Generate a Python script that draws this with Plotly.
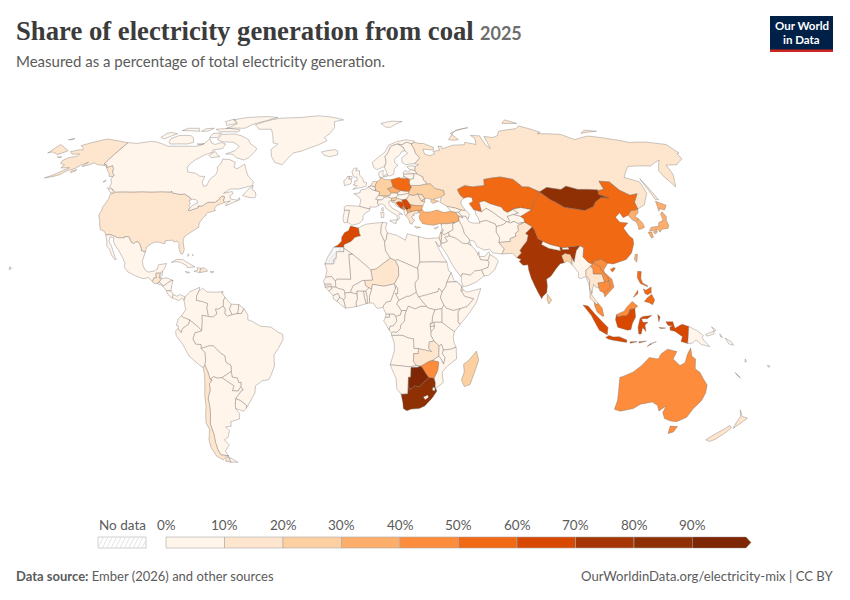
import plotly.graph_objects as go

# ---------- data (share of electricity from coal, %) ----------
iso_0_10 = ["CAN","GRL","ISL","MEX","BLZ","HND","SLV","NIC","CRI","PAN","CUB","HTI","JAM","PRI","BHS","TTO","COL","VEN","GUY","SUR","BRA","ECU","PER","BOL","PRY","ARG","URY",
    "PRT","ESP","FRA","BEL","LUX","DNK","CHE","AUT","ITA","GBR","IRL","NOR","SWE","FIN","EST","LVA","LTU","HUN","SVK","ALB","BLR",
    "CYP","UZB","TKM","KGZ","TJK","AFG","IRN","AZE","ARM","GEO","IRQ","SYR","LBN","JOR","SAU","KWT","QAT","ARE","OMN","YEM","NPL","BTN","MMR","TLS","PNG","SLB","VUT","FJI",
    "DZA","TUN","LBY","EGY","SDN","SSD","ERI","ETH","DJI","SOM","KEN","UGA","TZA","RWA","BDI","COD","COG","GAB","GNQ","CMR","CAF","TCD","NGA","BEN","TGO","GHA","BFA","MLI","MRT","SEN","GMB","GNB","GIN","SLE","LBR","CIV","AGO","MWI","MOZ","NAM","LSO","SWZ"]
iso_10_20 = ["USA","RUS","GTM","DOM","CHL","NLD","ROU","MDA","GRC","HRV","ISR","PAK","THA","NZL","NER","ZMB"]
iso_20_30 = ["DEU","UKR","SVN","BGD","LKA","MDG"]
iso_30_40 = ["CZE","BGR","MKD","TUR","TWN","JPN","KOR","PRK","NCL"]
iso_40_50 = ["LAO","VNM","KHM","MYS","AUS","ZWE","MNE"]
iso_50_60 = ["POL","KAZ","CHN","PHL"]
iso_60_70 = ["BIH","SRB","IDN","MAR"]
iso_70_80 = ["IND","XKX"]
iso_80_90 = ["MNG","ZAF"]
iso_90_100 = ["BWA"]
iso_no_data = ["ESH"]
bin_members = [iso_0_10, iso_10_20, iso_20_30, iso_30_40, iso_40_50, iso_50_60, iso_60_70, iso_70_80, iso_80_90, iso_90_100]
bin_colors = ["#fff5eb","#fee6ce","#fdd0a2","#fdae6b","#fd8d3c","#f16913","#d94801","#a63603","#8f3004","#7f2704"]
tick_labels = ["0%","10%","20%","30%","40%","50%","60%","70%","80%","90%"]

# ---------- simplified country outlines (lon,lat) ----------
OUTLINES = {
"USA":["-124.7,48.4 -123,49 -115,49 -105,49 -95.2,49 -95.2,49.4 -94.6,48.7 -92,48.3 -89.5,48 -88.4,48.3 -84.8,46.9 -84.5,46.5 -83.5,46 -84.5,45.5 -83.3,44.5 -83.6,43.6 -82.5,43 -83.1,42 -82.7,41.7 -79,42.8 -79,43.3 -79.2,43.5 -76.8,43.6 -76.3,44.2 -75,45 -71.5,45 -71.3,45.3 -70.3,45.9 -70,46.7 -69.2,47.4 -68.3,47.3 -67.8,47.1 -67.8,45.7 -67,44.9 -68.5,44.3 -70,43.8 -70.7,43 -70.8,42.3 -70,41.8 -71.3,41.5 -73.7,40.9 -74,40.5 -74.1,39.7 -75,38.9 -75.4,38 -76,37 -75.7,35.3 -76.7,34.7 -78,33.9 -79.3,33.1 -81,32 -81.4,30.7 -81,29.2 -80.5,28 -80,26.8 -80.3,25.3 -81.1,25.1 -81.8,26 -82.7,27.8 -82.8,29 -84,30.1 -85.3,29.7 -86,30.4 -88,30.3 -89.3,30.2 -89.2,29.1 -90.5,29.2 -91.7,29.6 -93.8,29.7 -95,29.2 -97.1,27.8 -97.2,25.9 -99.1,26.4 -99.5,27.5 -100.7,29.1 -101.5,29.8 -102.7,29.7 -103.2,29 -104.5,29.6 -106.4,31.7 -108.2,31.8 -108.2,31.3 -111,31.3 -114.8,32.5 -117.1,32.5 -118.4,33.8 -120.6,34.5 -121.9,36.6 -122.5,37.8 -123.8,39.3 -124.3,40.4 -124.1,42 -124.5,43 -124,46.2",
 "-141,69.6 -141,60.3 -139,60 -137.5,58.9 -135.5,59.7 -133.4,58.4 -131.8,56.6 -130,55.9 -130,55.2 -132,55.2 -133.5,56.5 -135.5,57.5 -136.5,58.2 -139.5,59.7 -144,60 -147,60.8 -148.5,60 -151.5,59.3 -150.5,61.1 -153,59.8 -154,58.5 -157,57.5 -158.5,56 -161,55.2 -164.8,54.6 -162,55.8 -159,57.8 -157.5,58.8 -162,58.7 -162,60 -165,60.6 -166,61.8 -164.5,63 -161,63.6 -161,64.6 -165,64.5 -168,65.6 -164,66.5 -162,66.2 -163.5,67.2 -166.7,68.3 -163,69.6 -156.7,71.3 -152,70.8 -146,70.2",
 "-155.9,20.2 -155,19.8 -155.6,19 -156,19.6",
 "-154.6,57.4 -152.4,58 -152.6,57.3 -154.2,56.8",
 "-171.5,63.4 -168.8,63.3 -170,63"],
"CAN":["-141,69.6 -135,69.3 -128,70.2 -125,70 -115,68 -110,68 -105,68 -98,68 -95,69 -94,71.5 -91,69.5 -88,68.8 -85,69.7 -82,69 -82,67 -87,66.3 -86,65.5 -90,64 -93,62 -94.5,60 -94.5,58.8 -92.5,57 -88,56.5 -85,55.3 -82.3,55.2 -82.2,53 -80.5,51.3 -79,51.5 -79,54 -77,56 -77.5,58 -78.5,59 -77.5,60.5 -78,62.4 -74,62.2 -70,61 -69.5,59 -67.5,58.3 -65.5,59.5 -64.5,60.3 -62,57.5 -60,55.5 -56,53 -56,51.5 -58.5,51 -62,50.2 -66.5,50.2 -69,48.5 -65,49.2 -64.3,48.3 -65.5,47.5 -64.5,46.2 -61,45.8 -60.5,46.8 -60,46 -63.5,44.6 -66,43.6 -66,44.5 -64.5,45.5 -67,45 -67.8,45.7 -67.8,47.1 -68.3,47.3 -69.2,47.4 -70,46.7 -70.3,45.9 -71.3,45.3 -71.5,45 -75,45 -76.3,44.2 -76.8,43.6 -79.2,43.5 -79,43.3 -79,42.8 -82.7,41.7 -83.1,42 -82.5,43 -81.7,44 -80,44.6 -80.5,45.6 -81.5,46 -83.5,46.2 -84.5,46.5 -84.8,46.9 -88.4,48.3 -89.5,48 -92,48.3 -94.6,48.7 -95.2,49.4 -95.2,49 -105,49 -115,49 -123,49 -125,50 -127.5,51 -128,52.5 -130,54.2 -130,55.2 -130,55.9 -131.8,56.6 -133.4,58.4 -135.5,59.7 -137.5,58.9 -139,60 -141,60.3",
 "-62,66 -64,63 -66,62 -71,63 -74,64.5 -78,64.6 -74,66 -73,68 -78,69.8 -85,70 -89,71 -89,73.5 -81,73.7 -76,72.8 -70,71 -67,69 -62,67",
 "-105,69 -115,69 -117,70 -118,71.5 -115,73 -108,73 -105,72 -102,69.8",
 "-125,72 -122,71.3 -117.5,73.8 -122,74.4 -124.5,74",
 "-90,76.5 -78,76.5 -75,78.5 -68,80.5 -62,82.5 -70,83.1 -85,82.4 -92,81 -86,79 -88,77.5",
 "-80,74.7 -92,74.7 -96,76 -88,76.5 -80,75.7",
 "-59.3,47.6 -56,46.9 -53,46.7 -52.7,47.6 -53.5,49 -55.5,50 -55.5,51.5 -57.5,50",
 "-123.3,48.4 -125,48.7 -128.3,50.7 -125,50",
 "-80.5,63.5 -85,63 -87,64 -85,65.7 -82,64",
 "-105,75 -117,75.3 -115,76.5 -108,76.5",
 "-87,79 -92,78 -96,80 -92,81.5",
 "-90,72 -95,72 -95,74 -90,74",
 "-100,75 -98,76.5 -103,76.3 -104,75",
 "-99,69 -95,69.2 -96,68.6",
 "-132,53.8 -131.8,53 -132.8,53"],
"GRL":["-73,78.2 -68,76 -60,76 -55,71 -54,69.5 -51,69 -53.5,66.5 -51.5,63.5 -48.5,61 -44,60 -42.5,62 -40,65 -35,66 -27,68.5 -22,70.5 -24,72 -21,74 -19,77 -20,80 -14,81 -25,83 -33,83.6 -45,82.5 -60,82 -65,81 -70,79.5"],
"ISL":["-24,65.5 -22,64 -18.8,63.4 -14.5,64.3 -14.6,65.8 -16.5,66.5 -21,66"],
"MEX":["-117.1,32.5 -114.8,32.5 -111,31.3 -108.2,31.3 -108.2,31.8 -106.4,31.7 -104.5,29.6 -103.2,29 -102.7,29.7 -101.5,29.8 -100.7,29.1 -99.5,27.5 -99.1,26.4 -97.2,25.9 -97.8,22.5 -97.2,20.6 -95.9,18.9 -94.5,18.2 -92,18.6 -90.7,19.3 -90.4,21 -87,21.5 -87.5,19.5 -88.3,18.5 -89.1,17.8 -91,17.8 -91,17.2 -90.5,16.1 -91.7,16 -92.2,14.6 -94,16.1 -96.5,15.7 -99.7,16.7 -103.5,18.3 -105.5,20.2 -105.3,21.5 -106.9,23.8 -109.4,26.7 -111,28 -112.7,30 -113,31.3 -114.8,31.7 -114.7,30 -113,28.2 -111.5,26 -110.3,24 -109.5,23.1 -110.2,23 -112.2,25 -113.5,27 -115,28 -115.7,30"],
"GTM":["-92.2,14.6 -91.7,16 -90.5,16.1 -91,17.2 -91,17.8 -89.1,17.8 -89.2,15.9 -88.2,15.7 -89.2,14.4 -90,13.8 -91.5,13.9"],
"BLZ":["-89.1,17.8 -88.3,18.5 -88.2,17 -88.9,15.9 -89.2,15.9"],
"HND":["-88.2,15.7 -86,16 -83.2,15 -84.5,14.7 -85.5,14 -87,13 -87.6,13.2 -89.2,14.4"],
"SLV":["-89.2,14.4 -87.6,13.2 -88,13.1 -90,13.8"],
"NIC":["-83.2,15 -83.6,13 -83.7,11 -85.7,11.1 -87.6,12.9 -87,13 -85.5,14 -84.5,14.7"],
"CRI":["-83.7,11 -82.6,9.6 -83,8.3 -83.6,8.5 -85,9.8 -85.7,10.8 -85.7,11.1"],
"PAN":["-82.6,9.6 -81,9 -79.5,9.6 -77.4,8.7 -77.8,7.3 -78.5,8.3 -80,7.3 -81.5,7.8 -83,8.3"],
"CUB":["-84.9,21.9 -83,23 -80,23 -76,21 -74.2,20.2 -77.5,19.9 -78,20.7 -81,22 -83,22.2"],
"HTI":["-71.7,19.7 -73.3,19.9 -72.8,19 -74.4,18.5 -71.8,18"],
"DOM":["-71.7,19.7 -70,19.8 -68.4,18.6 -70,18.3 -71.8,18"],
"JAM":["-78.3,18.4 -76.3,18.1 -77,17.8"],
"PRI":["-67.2,18.5 -65.6,18.3 -66.9,17.9"],
"BHS":["-78,25.2 -77.5,24.8 -77.9,24.2","-76,25 -75.5,24.5 -75.9,24.6"],
"TTO":["-61.6,10.8 -61,10.7 -61.2,10.1 -61.9,10.1"],
"COL":["-77.4,8.7 -75.5,10.7 -74,11.3 -71.3,12.4 -71.5,11 -72.5,9 -72.4,7.4 -70,7 -67.5,6.2 -67.8,4.5 -67,1.2 -69.8,1.7 -69.7,-0.5 -70,-4.2 -72,-2.4 -75.2,-0.1 -77.8,0.8 -78.8,1.4 -77,3.8 -77.5,6 -77.8,7.3"],
"VEN":["-71.5,11 -70,12 -68,10.6 -64,10.5 -61.9,10.7 -60,8.5 -60.7,7.5 -60.7,5.2 -62.8,4 -64,4.1 -63.4,2.2 -65,1 -67,1.2 -67.8,4.5 -67.5,6.2 -70,7 -72.4,7.4 -72.5,9"],
"GUY":["-60,8.5 -57.2,5.9 -58,4 -56.8,1.9 -58.8,1.3 -60,2.2 -59.9,4 -60.7,5.2 -60.7,7.5"],
"SUR":["-57.2,5.9 -54,5.8 -54.2,3.2 -54.6,2.3 -56.8,1.9 -58,4"],
"FRA":["-1.8,43.4 -1.2,46 -2.5,47.3 -4.7,48.3 -1.6,48.7 -1.5,49.7 1.5,50.2 2.5,51.1 4.2,50 5.9,49.5 6.2,49.5 8.2,49 7.6,47.6 6,46.2 7,45.9 7,44.2 7.5,43.8 6,43.1 3.2,43.2 3.2,42.4 0.7,42.8",
 "-54,5.8 -51.7,4.2 -52.7,2.4 -54.6,2.3 -54.2,3.2",
 "8.6,42.4 9.4,43 9.5,41.6 9,41.4"],
"BRA":["-51.7,4.2 -50,1.8 -50,0 -48,-0.7 -44.5,-2.5 -40,-2.8 -37,-4.8 -35,-5.5 -34.8,-7.5 -37,-11 -39,-13.5 -39,-17.7 -40.9,-21.5 -42,-23 -44.7,-23.3 -48,-25.3 -48.6,-28 -52,-32.2 -53.4,-33.8 -53.2,-32.7 -55.7,-30.9 -57.6,-30.2 -54.6,-27.2 -53.7,-26.9 -54.6,-25.6 -54.3,-24 -55.4,-24 -55.8,-22.3 -58,-22 -58.2,-19.8 -58.1,-17.5 -60.2,-16.3 -60.5,-13.8 -62,-13 -65.3,-10 -67,-10 -70.6,-11 -70.6,-9.5 -72.9,-9.4 -74,-7.3 -73,-5 -70,-4.2 -69.7,-0.5 -69.8,1.7 -67,1.2 -65,1 -63.4,2.2 -64,4.1 -62.8,4 -60.7,5.2 -59.9,4 -60,2.2 -58.8,1.3 -56.8,1.9 -54.6,2.3 -52.7,2.4"],
"ECU":["-78.8,1.4 -77.8,0.8 -75.2,-0.1 -75.5,-1.6 -78.3,-3.4 -79,-5 -80.3,-3.4 -80,-2.5 -81,-2.2 -80,0.5"],
"PER":["-80.3,-3.4 -79,-5 -78.3,-3.4 -75.5,-1.6 -75.2,-0.1 -72,-2.4 -70,-4.2 -73,-5 -74,-7.3 -72.9,-9.4 -70.6,-9.5 -70.6,-11 -69,-12.5 -69,-15.5 -69.5,-17.5 -70.4,-18.3 -72,-17.3 -76,-14 -78.5,-9.5 -81.2,-6 -81.3,-4.3"],
"BOL":["-70.6,-11 -67,-10 -65.3,-10 -62,-13 -60.5,-13.8 -60.2,-16.3 -58.1,-17.5 -58.2,-19.8 -62.6,-22.2 -64.5,-22.4 -66.2,-21.8 -67.9,-22.8 -68.5,-20 -69.5,-17.5 -69,-15.5 -69,-12.5"],
"PRY":["-58.2,-19.8 -58,-22 -55.8,-22.3 -55.4,-24 -54.3,-24 -54.6,-25.6 -56,-27.3 -58.6,-27.2 -57.6,-25.3 -62.6,-22.2"],
"ARG":["-67.9,-22.8 -66.2,-21.8 -64.5,-22.4 -62.6,-22.2 -57.6,-25.3 -58.6,-27.2 -56,-27.3 -54.6,-25.6 -53.7,-26.9 -54.6,-27.2 -57.6,-30.2 -58.2,-32.5 -58.4,-34 -57,-36 -57.6,-38 -62,-39 -62.3,-40.8 -65,-41 -63.7,-42.5 -65.3,-45 -67.5,-46 -66,-48 -69,-50.5 -68.4,-52.3 -72,-52 -72.5,-50 -72.3,-47 -71.7,-44 -71.8,-40 -70.5,-36 -70,-33 -70,-30 -68.5,-27 -68.4,-24.5 -67,-23",
 "-68.6,-52.7 -65,-54.9 -68.6,-54.9"],
"CHL":["-70.4,-18.3 -69.5,-17.5 -68.5,-20 -67.9,-22.8 -67,-23 -68.4,-24.5 -68.5,-27 -70,-30 -70,-33 -70.5,-36 -71.8,-40 -71.7,-44 -72.3,-47 -72.5,-50 -72,-52 -68.4,-52.3 -70.5,-53 -72,-54 -74.5,-52.5 -75.5,-49 -75,-46 -73,-42 -73.7,-39.5 -73,-37 -71.7,-33 -71.3,-29 -70.5,-25 -70.1,-21",
 "-68.6,-52.7 -68.6,-54.9 -71,-54.5 -70.5,-53.5"],
"URY":["-57.6,-30.2 -55.7,-30.9 -53.2,-32.7 -53.4,-33.8 -54.9,-35 -58.4,-34 -58.2,-32.5"],
"PRT":["-8.9,41.9 -6.5,41.9 -6.9,40.2 -7,39.5 -7.4,37.2 -8.9,37 -9.5,38.7"],
"ESP":["-8.9,41.9 -9.2,43 -8,43.7 -1.8,43.4 0.7,42.8 3.2,42.4 3,41.8 0.5,40.5 -0.3,39.4 0,38.7 -0.7,37.7 -2,36.8 -5.3,36.1 -6.3,36.8 -7.4,37.2 -7,39.5 -6.9,40.2 -6.5,41.9"],
"BEL":["2.5,51.1 4.3,51.4 5.9,51 6.1,50.2 5.9,49.5 4.2,50"],
"LUX":["5.9,49.5 6.1,50.2 6.4,49.5 6.2,49.5"],
"NLD":["3.6,51.4 4.3,51.4 5.9,51 6.2,51.9 7.2,53.2 5,53.2 4,52"],
"DEU":["6.2,51.9 7.2,53.2 8.7,54 8.6,54.9 10,54.5 11,54 14.2,53.9 14.6,52.5 15,51 12.2,50.3 13.8,48.7 13,47.5 10,47.4 7.6,47.6 8.2,49 6.4,49.5 6.1,50.2 5.9,51"],
"DNK":["8.6,54.9 8.1,55.6 8.2,57 10.6,57.7 10.3,56.5 10.5,55 9.7,54.8","11,55.7 12.5,56 12.4,55.2 11,55"],
"CHE":["6,46.2 7.6,47.6 10,47.4 10.4,46.9 9,45.9 7,45.9"],
"AUT":["10,47.4 13,47.5 13.8,48.7 16.9,48.6 17.1,47.8 16.1,46.8 13.7,46.5 12.2,47 10.4,46.9"],
"ITA":["7,44.2 7,45.9 9,45.9 10.4,46.9 12.2,47 13.7,46.5 13.6,45.7 12.3,45.3 12.4,44.2 14,42.5 16,41.8 18.5,40.2 17,40.5 16.5,39.7 17.1,39 16,38 15.7,40 13,41.3 11,42.5 10.2,43.8 8.8,44.4 7.5,43.8",
 "12.4,38 15.6,38.2 15.1,36.7 12.5,37.6","8.2,41 9.7,41 9.6,39.1 8.5,39"],
"GBR":["-5.3,50 1.4,51.2 1.7,52.7 0.2,53 -0.2,54.3 -1.6,55.5 -2,56 -2,57.5 -4,57.6 -3.2,58.6 -5,58.6 -6,57 -5.2,55.3 -4.8,55 -3.2,54.9 -3.2,53.4 -4.5,53.3 -4.2,52.2 -5.2,51.8 -3,51.4",
 "-7.3,55.2 -6,55.2 -5.6,54.5 -6.3,54.1 -7.5,54.2"],
"IRL":["-7.3,55.2 -7.5,54.2 -6.3,54.1 -6,53.2 -6.4,52.2 -9.5,51.5 -10,53.5 -8.5,54.5 -8.3,55.2"],
"NOR":["5,61 5.5,59 7,58 8.5,58.3 10.8,59.2 11.3,59 12.5,61 12.2,63.5 14,65 16,67.8 18,68.5 20.5,69 23,68.7 26,69.8 29,69 31,70.3 26,71 20,70 15,68.5 12.5,65.5 9,63.5","12,79 20,80.3 27,80 18,77 15,77"],
"SWE":["11.3,59 12.5,56.4 12.9,55.4 14.3,55.5 16,56.2 16.6,58.5 18.8,59.8 17.2,60.8 17.4,62.5 21,64.5 22.2,65.8 24,65.9 23.5,67.5 20.5,69 18,68.5 16,67.8 14,65 12.2,63.5 12.5,61"],
"FIN":["24,65.9 25.3,65 21.5,63 21.2,61 23,60 25.5,60.3 28,60.5 31.5,62.9 29.8,64.7 29.5,67 28.5,69 29,69 26,69.8 23,68.7 20.5,69 23.5,67.5"],
"EST":["23.5,59.2 25.5,59.6 28,59.4 27.4,57.6 25,58 24.3,58.3"],
"LVA":["21,57 21,56.1 25.8,56.3 28.2,56.2 27.4,57.6 25,58 24.3,57.2 23.2,57 22.6,57.7"],
"LTU":["21,56.1 21,55.3 22.8,54.4 23.9,54 25.8,54.3 26.5,55.7 25.8,56.3"],
"POL":["14.2,53.9 18.5,54.8 19.8,54.4 22.8,54.4 23.9,54 23.5,52.5 24,50.8 22.7,49.1 19,49.4 18.8,49.6 16.5,50.2 15,51 14.6,52.5"],
"CZE":["12.2,50.3 15,51 16.5,50.2 18.8,49.6 16.9,48.6 13.8,48.7"],
"SVK":["16.9,48.6 18.8,49.6 19,49.4 22.7,49.1 22.2,48.4 18.8,47.9 17.1,47.8"],
"HUN":["17.1,47.8 18.8,47.9 22.2,48.4 22.8,48 21,46.2 18.8,45.9 16.5,46.5 16.1,46.8"],
"SVN":["13.7,46.5 16.1,46.8 16.5,46.5 15.3,45.5 13.6,45.5"],
"HRV":["13.6,45.5 15.3,45.5 16.5,46.5 18.8,45.9 19,45 17,45.2 15.8,44.8 17.5,43 18.5,42.4 16,43.5 14.9,45 14,44.9"],
"BIH":["15.8,44.8 17,45.2 19,45 19.5,44 18.5,42.6 17.5,43"],
"SRB":["18.8,45.9 21,46.2 22.5,44.2 22.9,43.2 22,42.3 21.7,42.6 20.6,43.2 20,42.8 19.3,43 19.5,44 19,45"],
"XKX":["20,42.6 20,42.8 20.6,43.2 21.7,42.6 20.6,41.9"],
"MNE":["18.5,42.6 19.3,43 20,42.8 20,42.6 19.4,41.9 18.5,42.4"],
"ALB":["19.4,41.9 20,42.6 20.6,41.9 21,40.7 20,39.7 19.3,40.5"],
"MKD":["20.6,41.9 21.7,42.6 22,42.3 23,41.4 21,40.8"],
"BGR":["22.9,43.2 22.5,44.2 25,43.7 28.6,43.7 27.9,42.7 28,42 26.3,41.8 24,41.5 23,41.4 22,42.3"],
"ROU":["21,46.2 22.8,48 24.9,47.7 26.7,48.3 28.2,45.5 29.7,45.2 28.6,43.7 25,43.7 22.5,44.2"],
"MDA":["26.7,48.3 29,47.9 30,46.4 28.2,45.5"],
"UKR":["22.7,49.1 24,50.8 24,51.6 28,51.6 32,52.2 34,52.3 36,50.4 40,49.6 40,48 38.2,47.1 35,46.3 33.9,46 36.5,45.4 33.5,44.5 32.5,45.4 33.5,46 31,46.5 30,46.4 29.7,45.2 28.2,45.5 30,46.4 29,47.9 26.7,48.3 24.9,47.7 22.8,48 22.2,48.4"],
"BLR":["23.5,52.5 23.9,54 25.8,54.3 26.5,55.7 25.8,56.3 28.2,56.2 31,55 30.8,53.8 32,53 32,52.2 28,51.6 24,51.6 24,50.8"],
"GRC":["20,39.7 21,40.8 23,41.4 24,41.5 26.3,41.8 26,40.9 23.5,40.3 24,40 22.8,39.7 23,38.5 24,38 23,37.3 22.5,36.5 21.5,36.9 21.2,38.3","23.6,35.6 26.3,35.3 24.5,35"],
"TUR":["26.3,41.8 28,42 29,41.2 31.5,41.2 35,42 38,41 41.5,41.5 43.5,41.1 44.8,39.7 44.5,37.8 42.4,37.1 39,36.7 36.2,36.7 36,36 36,36.9 32.5,36.1 30.5,36.3 27.5,36.7 26.3,38.3 26.2,39.6 27,40.5 26.3,40.9"],
"CYP":["32.4,35 34.5,35.6 33.9,34.9 32.8,34.6"],
"RUS":["28,59.4 30,60 28,60.5 31.5,62.9 29.8,64.7 29.5,67 28.5,69 31,69.8 33,69.3 36,69.2 41,67.5 40.5,66.3 34.5,66.7 34.8,64.5 37.5,63.9 40.5,64.6 40,65.7 44,66.2 44,68 46,68 46,66.8 53,68.5 60,68.7 61,69.8 67,68.8 68.5,71.5 67,73 72.5,72.8 72.5,68.5 74,67 75,72.5 80,72 84,73 87,75 100,76.3 104,77.7 113,74.5 110,73.8 124,73.5 129,71 140,72.7 150,71.5 160,69.7 170,69.9 178,69 179.9,68.8 179.9,65 178,64.6 177,62.5 170,60 164,59.9 163,58 162,56 157,51 156,55 156.5,57.5 163.5,62 155,59.5 142.5,59.3 135,54.8 141,53 140,48.5 135,44 131.2,42.6 130.6,42.4 131,45 135,48.3 131,47.7 127.5,49.7 125.5,53 120.5,53.3 120,50 117,49.6 116.7,49.8 107,50 102,51.3 98.7,50 98,50 92,50.8 87.8,49.2 87.3,49.1 83,51 80,51 77,54 71,55 62,54 61,51.5 55,51 51,51.5 47,50 47.5,48 49,46.5 47.5,45.6 47,44.5 47.7,43 48.6,41.8 46.5,41.9 44,42.7 40,43.4 37,45 38.2,47.1 40,48 40,49.6 36,50.4 34,52.3 32,52.2 32,53 30.8,53.8 31,55 28.2,56.2 27.4,57.6",
 "20,54.4 22.8,54.4 21,55.3",
 "142.5,54.3 143,49 143.5,46 142,46 142,51",
 "52,71 55,70.7 58,71 55,74 69,76.8 60,75.6 56,73.5",
 "95,79 105,79 100,81",
 "138,74 143,75.5 150,75",
 "-179.9,68.8 -175,67.5 -170,66 -173,64.3 -178,65.5 -179.9,65",
 "-179.9,71 -177,71.5 -178,70.8"],
"KAZ":["47,50 51,51.5 55,51 61,51.5 62,54 71,55 77,54 80,51 83,51 87.3,49.1 85.5,47.2 82.8,45.4 80,42.1 75,42.9 71,42.3 70.8,42 68,41 66.5,41.9 66,43 61,44.4 58.6,45.5 56,45 56,41.3 55.5,41.3 53,42 52.5,42 51,44.5 53,45.3 53,46.8 51,47 49,46.5 47.5,48"],
"UZB":["56,45 58.6,45.5 61,44.4 66,43 66.5,41.9 68,41 70.8,42 71,42.3 73.2,40.8 70.5,40.2 67.5,39.5 68,38 67.4,37.3 66.5,37.4 64,39 61,41.2 58.5,42.6 56,41.3"],
"TKM":["53,42 55.5,41.3 56,41.3 58.5,42.6 61,41.2 64,39 66.5,37.4 64.5,36.3 61.2,35.6 61,36.6 57,38 53.9,37.3 53.7,39 53,40"],
"KGZ":["71,42.3 75,42.9 80,42.1 76,40.4 73.7,39.5 70.5,40.2 73.2,40.8"],
"TJK":["67.5,39.5 70.5,40.2 73.7,39.5 75,38.6 74.9,37.3 71.5,36.8 70,37.6 68,37 67.4,37.3 68,38"],
"AFG":["61.2,35.6 64.5,36.3 66.5,37.4 67.4,37.3 68,37 70,37.6 71.5,36.8 74.9,37.3 71.3,36 71,34 69.3,33 69.3,31.9 66.5,31 66.3,29.9 61,29.5 61.8,31.3 60.6,33.5"],
"PAK":["61,29.5 66.3,29.9 66.5,31 69.3,31.9 69.3,33 71,34 71.3,36 74.9,37.3 77.8,35.5 74,33 75,32.3 73.8,30 71.5,28 70,26.5 70.5,25.5 68.2,23.7 66.5,25.4 61.6,25.1 63,27"],
"IRN":["44.8,39.7 48,39.6 49,37.5 50.5,37 54,36.9 53.9,37.3 57,38 61,36.6 61.2,35.6 60.6,33.5 61.8,31.3 61,29.5 63,27 61.6,25.1 57.5,25.6 56.5,27 54,26.6 51,28 50,30 48,30.4 47.7,31 46,33 45.5,35.7 44.5,37.8"],
"AZE":["45,41.2 46.5,41.9 48.6,41.8 50,40.5 49,38.5 48,39.6 44.8,39.7 46.5,39"],
"ARM":["43.5,41.1 45,41.2 46.5,39 44.8,39.7"],
"GEO":["40,43.4 44,42.7 46.5,41.9 45,41.2 43.5,41.1 41.5,41.5"],
"IRQ":["42.4,37.1 44.5,37.8 45.5,35.7 46,33 47.7,31 48,30.4 47.9,30 47,29.1 44.7,29.2 42,31.1 39,32 38.8,33.4 41,34.4 41.3,36.7"],
"SYR":["36.2,36.7 39,36.7 42.4,37.1 41.3,36.7 41,34.4 38.8,33.4 36.8,32.4 35.8,33.3 36.6,34.2 36,35 36,36"],
"LBN":["35.1,33.1 35.8,33.3 36.6,34.2 36,34.6"],
"ISR":["34.3,31.3 35.1,33.1 35.8,33.3 35.5,31.5 35,29.5"],
"JOR":["35.5,31.5 35.8,33.3 36.8,32.4 38.8,33.4 39,32 37,31.5 38,30 36,29.2 35,29.5"],
"SAU":["36,29.2 38,30 37,31.5 39,32 42,31.1 44.7,29.2 47,29.1 48.4,28.5 50,26.7 51.5,24.5 52,23 55.2,22.7 55.7,22 55,20 52,19 49,18.6 47,17 45,17.4 43.3,17.5 42.6,16.5 40,20 39,21.5 37.2,24.8 35,28 34.9,29.4"],
"KWT":["47,29.1 47.9,30 48.4,28.5"],
"QAT":["50.8,24.8 51.5,26 51.6,24.8"],
"ARE":["51.6,24.2 54,24.2 56,26 56.4,24.9 55.2,22.7 52,23"],
"OMN":["56.4,24.9 58.7,23.6 59.8,22.5 57.8,19 55,17 53,16.7 52,19 55,20 55.7,22 55.2,22.7"],
"YEM":["43.3,17.5 45,17.4 47,17 49,18.6 52,19 53,16.7 49,14.2 45,12.8 43.5,12.7 42.8,15"],
"IND":["77.8,35.5 78.5,34 79,31 81,30 80.1,28.8 83,27.3 88,26.4 88,27.9 89,27.5 89,26.8 92,26.9 91.7,27.8 97.3,28.3 95.2,26.5 94,23.9 93.3,22 92.5,23.7 92,24.9 89.8,25.3 88.2,24.5 88.9,21.8 87,21.4 85,19.6 82.3,16.7 80.2,15.5 80.3,13 79.8,10.3 78,8.9 77.5,8 76.3,10 74.8,13 73.5,16 72.8,19 72.7,21 70.5,20.8 69,22.3 70,23 68.2,23.7 70.5,25.5 70,26.5 71.5,28 73.8,30 75,32.3 74,33"],
"NPL":["80.1,28.8 81,30 84,28.8 88,27.9 88,26.4 83,27.3"],
"BTN":["89,26.8 89,27.5 91.7,27.8 92,26.9"],
"BGD":["88.2,24.5 89.8,25.3 92,24.9 92.5,23.7 92.3,21 90.5,22.5 88.9,21.8"],
"LKA":["80,9.8 81.8,7.5 80.5,6 79.8,7.5"],
"MMR":["92.3,21 92.5,23.7 93.3,22 94,23.9 95.2,26.5 97.3,28.3 98.7,27.5 97.6,24 99.5,22 101.2,21.2 100.2,20.4 98,19 97.7,17 99,15 98.6,12 99.5,10.3 98.6,10 98.6,13 97.5,16.5 95.5,15.8 94.3,16 94.5,18"],
"THA":["100.2,20.4 101.2,19.5 101,17.5 104.7,17.5 105.5,14.4 102.5,14 102.8,12 101,12.7 100.5,13.5 100,12 99.3,9.5 100.3,8.2 102,6.2 101,5.7 100.2,6.7 98.5,8.2 98.6,10 99.5,10.3 98.6,12 99,15 97.7,17 98,19"],
"LAO":["100.2,20.4 101.2,21.2 102,22.4 102.9,21 104.5,20.5 104.7,18.9 107,16.5 107.5,14.8 105.5,14.4 104.7,17.5 101,17.5 101.2,19.5"],
"VNM":["102,22.4 105.5,23.2 108,21.6 105.8,19 106,18 108.8,15.5 109.3,12.5 107,10.5 105,8.7 104.5,10.4 106,11 107.5,12.4 107.5,14.8 107,16.5 104.7,18.9 104.5,20.5 102.9,21"],
"KHM":["102.5,14 105.5,14.4 107.5,14.8 107.5,12.4 106,11 104.5,10.4 103,11 102.8,12"],
"MYS":["100.2,6.7 101,5.7 102,6.2 103.5,4.5 104.2,1.4 103.5,1.3 101.3,2.9 100.4,5",
 "109.6,1.9 111.4,2.7 113,3.2 114,4.6 116.7,7 119,5.2 117.7,4.2 115.5,3.9 115,2.5 114,1.5 112,1.4 110,1"],
"IDN":["109.6,1.9 110,1 112,1.4 114,1.5 115,2.5 115.5,3.9 117.7,4.2 117.9,1 116.5,-1.5 116,-3.8 114.5,-4 110.2,-2.9 109.2,0",
 "95.3,5.6 97.5,5.2 100.5,2 103.5,-0.8 106,-3 105.8,-5.8 102.3,-4 100.3,-1 98.7,1.7",
 "105.2,-6.8 106.5,-6 108.5,-6.6 111,-6.5 114.5,-7.8 114.4,-8.7 108,-7.8 106.4,-7.4",
 "119.5,-5.5 119,-3 119.8,0.5 121,1.2 124.9,1.6 123,0.4 120.5,0.4 121,-1 123.3,-1 122,-2 122.5,-4.5 121,-3 120.5,-5.5",
 "116,-8.4 119,-8.4 116,-9","119.8,-8.4 123,-8.2 119.8,-8.9","123.5,-10.3 125,-9 125,-9.5",
 "127.5,2 128.5,1 128,-0.8 127.7,0.5","128,-3 131,-3.2 129,-3.4",
 "131,-0.8 134,-0.8 135,-3.3 138,-1.7 141,-2.6 141,-9.1 138,-8.3 138.5,-6.5 135,-4.4 133,-4 132.8,-2.8 134,-2.3 132,-2.2"],
"TLS":["125,-9 127.3,-8.4 125,-9.5"],
"PNG":["141,-2.6 145,-4.4 147.5,-6 147,-6.8 148,-8 150.8,-10.3 147,-9.5 144.5,-7.7 143,-9 141,-9.1",
 "148.5,-5.6 152,-4.3 152,-5.5 149,-6.3","150.8,-2.7 152.8,-4 152.3,-4.5","154.6,-5.4 155.9,-6.8 155,-6.6"],
"SLB":["157,-7 160,-8.5 161,-9.8 159,-9.3"],
"VUT":["167,-15 167.8,-16 167.2,-16.2"],
"FJI":["177.3,-17.5 178.6,-17.7 178.2,-18.3"],
"PHL":["120.6,18.5 122.2,18.4 121.5,15.8 122,14 124,13 124,12.6 121,13.8 120,16","122,7 123.5,8.5 125.4,9.7 126.5,7.5 125.5,5.7 124,6.5",
 "122,11.8 123,11.3 125.5,12.5 125.3,10.3 123.5,9.5 122.5,10","117.3,8.5 119.5,11.3 119.5,10"],
"TWN":["121,25 122,25 121,22 120.2,23"],
"JPN":["130.9,34 132.5,35.4 136,35.7 137,37.2 139.5,38 140,40.5 141.3,41.3 142,39.5 141,38 140.9,36 140,35 137,34.6 135.5,33.5 135,34.6 132,33.9",
 "130,33.5 131.7,33.5 131.5,31.5 130.5,31.2","132.4,33.5 134.3,34.3 134.3,33.5 133,32.8","140,41.5 141.5,45.4 145.3,43.8 143,42 141,42.5"],
"KOR":["126.6,37.7 128.4,38.6 129.4,37 129.3,35.3 127.5,34.7 126.3,34.5 126.7,36"],
"PRK":["124.3,40 125.4,38 126.6,37.7 128.4,38.6 127.4,39.5 129.8,41 130.6,42.4 129,42 126.9,41.8"],
"CHN":["73.7,39.5 76,40.4 80,42.1 82.8,45.4 85.5,47.2 87.3,49.1 91,46 93,45 96,43 105,41.8 110,43.3 112,45 116,46.8 119.8,46.7 115.8,48 116.7,49.8 117,49.6 120,50 120.5,53.3 125.5,53 127.5,49.7 131,47.7 135,48.3 131,45 130.6,42.4 129,42 126.9,41.8 124.3,40 121.5,39 121,40.9 118,39.2 119,37.3 122.5,37 119.5,35 120.8,32 122,31 121.6,29 119.5,25.5 116.5,23 113.5,22.2 110.4,21.3 108,21.6 105.5,23.2 102,22.4 101.2,21.2 99.5,22 97.6,24 98.7,27.5 97.3,28.3 91.7,27.8 89,27.5 88,27.9 84,28.8 81,30 79,31 78.5,34 77.8,35.5 74.9,37.3 75,38.6",
 "108.7,19.2 110.5,20 111,19.6 109.5,18.2"],
"MNG":["87.8,49.2 92,50.8 98,50 98.7,50 102,51.3 107,50 116.7,49.8 115.8,48 119.8,46.7 116,46.8 112,45 110,43.3 105,41.8 96,43 93,45 91,46 87.3,49.1"],
"MAR":["-5.9,35.8 -2.2,35.1 -1.7,33 -1.2,32.1 -3.7,31.5 -5.5,29.9 -8.7,28.7 -8.7,27.7 -13.2,27.7 -11.5,28.5 -9.8,30 -9.8,31.5 -8.5,33.3 -6.8,34"],
"ESH":["-13.2,27.7 -8.7,27.7 -8.7,26 -12,26 -12,23.5 -13,23 -13,21.3 -17,21.3 -16,23.5 -14.5,26"],
"DZA":["-2.2,35.1 1,36.5 9,37.2 8.3,36 8,33 9.6,30 9.9,26.5 12,23.5 5.7,19.4 3.3,19 1.2,20.7 -4.8,25 -8.7,27.3 -8.7,28.7 -5.5,29.9 -3.7,31.5 -1.2,32.1 -1.7,33"],
"TUN":["9,37.2 11,37 10.2,35 11,33.2 10.3,30.5 9.6,30 8,33 8.3,36"],
"LBY":["11,33.2 15.2,32.3 19,30.4 20,32.8 25,31.8 25,22 24,20 24,19.5 15,23 14.2,22.6 12,23.5 9.9,26.5 9.6,30 10.3,30.5"],
"EGY":["25,31.8 29,31 32,31.2 34.3,31.3 34.9,29.4 34.2,27.8 32.6,29.9 33.6,27.5 35.5,24 37,22 25,22"],
"SDN":["25,22 37,22 37.5,18.7 38.6,18 36.5,14.3 36,12.7 34.3,10.5 33,12 32.4,10.7 27.5,9.5 24,8.7 23,10.5 22.5,14 24,15.6 24,19.5 24,20"],
"SSD":["24,8.7 27.5,9.5 32.4,10.7 33,12 34.3,10.5 33.5,8.5 35,5.5 34,4.2 31,3.8 28,4.5 27.4,5.1"],
"ERI":["36.5,14.3 38.6,18 39.7,15 43,12.7 41,14.5 37.5,14.4"],
"ETH":["36,12.7 36.5,14.3 37.5,14.4 41,14.5 43,12.7 42.5,11 42.9,10.9 44,9 48,8 45,5 42,4.2 39,3.5 36,4.4 35,5.5 33.5,8.5 34.3,10.5"],
"DJI":["43,12.7 43.4,11.5 42.9,10.9 42.5,11"],
"SOM":["42.9,10.9 43.4,11.5 45,10.5 51.2,11.9 49,6.5 45.5,2 42,-1.7 41,-1 41,3 42,4.2 45,5 48,8 44,9"],
"KEN":["34,4.2 35,5.5 36,4.4 39,3.5 42,4.2 41,3 41,-1 42,-1.7 39.5,-4.6 37.7,-3.5 34,-1 34,1"],
"UGA":["31,3.8 34,4.2 34,1 34,-1 30.5,-1 29.7,-1.4 30,1.3"],
"TZA":["30.5,-1 34,-1 37.7,-3.5 39.5,-4.6 39,-6.5 39.5,-9 40.4,-10.5 38,-11.3 34.9,-11.6 34,-9.5 33,-10 32,-9.2 30.7,-8.2 29.3,-6 29.3,-4.5 30.5,-3.5 30.8,-2.4"],
"RWA":["29,-1.3 29.7,-1.4 30.5,-1 30.8,-2.4 29,-2.7"],
"BDI":["29,-2.7 30.8,-2.4 30.5,-3.5 29.3,-4.5"],
"COD":["12.3,-6 12.2,-5 13,-4.6 14.5,-4.8 16,-3.5 16.2,-2 17.8,-0.5 18,2 18.6,3.5 19.5,5.2 22.5,4.2 25,5.2 27.4,5.1 28,4.5 31,3.8 30,1.3 29.7,-1.4 29,-1.3 29,-2.7 29.3,-4.5 29.3,-6 30.7,-8.2 28.7,-8.5 28.5,-11 29.8,-12.2 28.5,-12 27,-11.6 24.5,-11.2 24,-11 22,-11 21.8,-7.3 19.5,-7 17,-6"],
"COG":["11.2,-4 12.2,-5 13,-4.6 14.5,-4.8 16,-3.5 16.2,-2 17.8,-0.5 18,2 18.6,3.5 16.5,3.5 16,1.8 14,1.3 14.5,-0.5 13,-2.3 11.5,-2.5"],
"GAB":["9.3,-1 8.8,-0.5 9.6,1 11.3,1 11.3,2.2 13.3,2.2 14,1.3 14.5,-0.5 13,-2.3 11.5,-2.5 11.2,-4"],
"GNQ":["9.6,1 9.8,2.2 11.3,2.2 11.3,1"],
"CMR":["8.5,4.7 9.8,2.2 11.3,2.2 13.3,2.2 14,1.3 16,1.8 16.5,3.5 15,5.5 14.5,6 15.5,7.5 14,10 15,10 15,12 14.2,13 14,12 13.5,11 11.8,7 10,6.8 8.8,5.5"],
"CAF":["14.5,6 15,5.5 16.5,3.5 18.6,3.5 19.5,5.2 22.5,4.2 25,5.2 27.4,5.1 24,8.7 23,10.5 20,9 19,9 15.5,7.5"],
"TCD":["14.2,13 15,12 15,10 14,10 15.5,7.5 19,9 20,9 23,10.5 22.5,14 24,15.6 24,19.5 15,23 14.2,22.6 15.5,20 15.5,16.8 13.5,13.7"],
"NER":["3.6,11.7 2.4,12.2 1,13 0.5,15 4,15.2 3.3,19 5.7,19.4 12,23.5 14.2,22.6 15.5,20 15.5,16.8 13.5,13.7 12,13.4 9,12.8 4,13.5"],
"NGA":["2.7,6.4 2.7,9 3.6,11.7 4,13.5 9,12.8 12,13.4 13.5,13.7 14,12 13.5,11 11.8,7 10,6.8 8.8,5.5 8.5,4.7 6,4.3 4.3,6.3"],
"BEN":["1.7,6.2 2.7,6.4 2.7,9 3.6,11.7 2.4,12.2 1,11 1.6,9"],
"TGO":["1.2,6.1 1.7,6.2 1.6,9 1,11 0,11 0.6,8"],
"GHA":["-3,5 1.2,6.1 0.6,8 0,11 -2.8,11 -2.6,8 -3.2,6.5"],
"BFA":["-5.5,10.4 -2.8,9.8 -2.8,11 0,11 1,11 2.4,12.2 1,13 0.5,15 -0.5,15 -2,14.2 -4.5,13 -5.5,11"],
"MLI":["-12.2,14.8 -11.5,15.6 -5.5,15.5 -6.5,25 -4.8,25 1.2,20.7 3.3,19 4,15.2 0.5,15 -0.5,15 -2,14.2 -4.5,13 -5.5,11 -5.5,10.4 -8,10.2 -8.5,11.4 -10.7,11.9 -12,12.4"],
"MRT":["-17,21.3 -13,21.3 -13,23 -12,23.5 -12,26 -8.7,26 -8.7,27.3 -4.8,25 -6.5,25 -5.5,15.5 -11.5,15.6 -12.2,14.8 -14,16.6 -16.5,16.2 -16,19"],
"SEN":["-16.5,16.2 -14,16.6 -12.2,14.8 -12,12.4 -13.7,12.6 -16.7,12.4 -16.8,13.6 -17.5,14.7"],
"GMB":["-16.8,13.2 -14,13.3 -14,13.7 -16.8,13.7"],
"GNB":["-16.7,12.4 -13.7,12.6 -13.7,11.7 -15,11"],
"GIN":["-13.7,12.6 -12,12.4 -10.7,11.9 -8.5,11.4 -8,10.2 -7.8,8.5 -8.5,7.6 -10.3,8.5 -11,10 -13.2,9.2 -15,11 -13.7,11.7"],
"SLE":["-13.2,9.2 -11,10 -10.3,8.5 -11.4,7 -13,7.9"],
"LBR":["-11.4,7 -10.3,8.5 -8.5,7.6 -7.6,4.4 -9,5.2"],
"CIV":["-7.6,4.4 -3,5 -3.2,6.5 -2.6,8 -2.8,9.8 -5.5,10.4 -8,10.2 -7.8,8.5 -8.5,7.6"],
"AGO":["12.3,-6 17,-6 19.5,-7 21.8,-7.3 22,-11 24,-11 24,-13 22,-13 22,-16 23.4,-17.6 20,-18 13.8,-17.4 11.8,-17.3 13.5,-12 13.5,-9"],
"ZMB":["24,-11 24.5,-11.2 27,-11.6 28.5,-12 29.8,-12.2 28.5,-11 28.7,-8.5 30.7,-8.2 32,-9.2 33,-10 33,-14 30.2,-15.6 28.8,-16 25.3,-17.8 23.4,-17.6 22,-16 22,-13 24,-13"],
"MWI":["33,-10 34,-9.5 34.9,-11.6 34.5,-13 35.8,-14.5 35.2,-17 34,-15 33,-14"],
"MOZ":["34.9,-11.6 38,-11.3 40.4,-10.5 40.8,-15 37,-17.7 34.8,-20 35.5,-24 32.8,-26 32,-26 31.9,-24 31.3,-22.4 32.5,-20 32.8,-19 33,-16.2 30.2,-15.6 33,-14 34,-15 35.2,-17 35.8,-14.5 34.5,-13"],
"ZWE":["25.3,-17.8 28.8,-16 30.2,-15.6 33,-16.2 32.8,-19 32.5,-20 31.3,-22.4 29,-22.2 27.5,-20.5 26,-18.5"],
"NAM":["11.8,-17.3 13.8,-17.4 20,-18 23.4,-17.6 25.3,-17.8 23.5,-18.3 21,-18.3 21,-22 20,-22 20,-28.4 17,-28.5 15,-26.5 14.5,-22.5"],
"BWA":["21,-18.3 23.5,-18.3 25.3,-17.8 26,-18.5 27.5,-20.5 29,-22.2 26,-24.7 25,-25.7 23,-25.3 20.7,-26.8 20,-25 20,-22 21,-22"],
"ZAF":["17,-28.5 20,-28.4 20,-25 20.7,-26.8 23,-25.3 25,-25.7 26,-24.7 29,-22.2 31.3,-22.4 31.9,-24 32,-26 32.8,-26.9 32.8,-27.5 31,-30 28,-33 25.5,-34 22,-34.2 20,-34.8 18.3,-34 18,-32"],
"LSO":["27,-29.6 29,-28.8 29.4,-29.7 28,-30.6"],
"SWZ":["31,-25.8 32,-26 32,-27.3 30.9,-27"],
"MDG":["49.3,-12 50.5,-15.5 47.5,-24.8 45,-25.6 43.5,-23 44.5,-20 44,-17 46,-15.7 48,-13.5"],
"NCL":["164,-20.2 167,-22.3 165.5,-21.5"],
"NZL":["172.8,-34.5 175.5,-37 178.5,-37.7 177,-39.5 175.2,-41.6 174.7,-39.5 174.7,-37","172.7,-40.5 174.3,-41.5 172.8,-43.7 171,-45.8 169,-46.7 166.5,-46 168.5,-44"],
"AUS":["113.5,-22 114,-26 115,-31 115,-34.3 118,-35 123.5,-34 126,-32.3 131,-31.5 134,-32.8 135.7,-34.9 138,-33 137.8,-35.5 140,-37.8 143.5,-38.8 146.5,-39 150,-37.3 151,-34 153,-31 153.5,-28 153,-25 150.5,-22.5 148.5,-20.2 146,-18.8 145.3,-15 143.5,-14 142.5,-10.8 141.5,-13 141,-16.5 139,-17.5 135.5,-15 136.7,-12.2 132.5,-11.3 130,-13 129,-15 125,-14.5 122.2,-17.5 119,-20 114.5,-21.8",
 "144.7,-40.7 148.3,-40.9 148,-43 146,-43.6"],
}
# hatch strokes over the no-data territory (Western Sahara)
HATCH = ["-15.5,22 -13,25", "-14.5,21.4 -12.2,24.2", "-16.3,23 -13.8,26.4", "-13.2,21.4 -12.1,22.8", "-12.6,25.6 -11.5,26", "-11,26 -10,27.6"]

def ring(text):
    pts = [[float(v) for v in p.split(",")] for p in text.split()]
    area = sum(a[0]*b[1]-b[0]*a[1] for a, b in zip(pts, pts[1:]+pts[:1]))
    if area > 0:           # exterior rings run clockwise for d3-geo
        pts.reverse()
    return pts + [pts[0]]

color_of = {c: bin_colors[i] for i, members in enumerate(bin_members) for c in members}
for c in iso_no_data:
    color_of[c] = "#f7f7f7"

BORDER = dict(color="rgba(110,105,100,0.6)", width=0.6)
fig = go.Figure()
for code, parts in OUTLINES.items():
    lon, lat = [], []
    for part in parts:
        r = ring(part)
        lon += [p[0] for p in r] + [None]
        lat += [p[1] for p in r] + [None]
    fig.add_trace(go.Scattergeo(lon=lon[:-1], lat=lat[:-1], mode="lines", fill="toself", fillcolor=color_of[code],
                                line=BORDER, hoverinfo="skip", showlegend=False, name=code))
h_lon, h_lat = [], []
for seg in HATCH:
    a, b = [[float(v) for v in p.split(",")] for p in seg.split()]
    h_lon += [a[0], b[0], None]; h_lat += [a[1], b[1], None]
fig.add_trace(go.Scattergeo(lon=h_lon[:-1], lat=h_lat[:-1], mode="lines", line=dict(color="#d8d8d8", width=0.8),
                            hoverinfo="skip", showlegend=False, name="hatch"))

fig.update_geos(visible=False, projection_type="robinson", projection_scale=0.9875,
    center=dict(lon=28.5, lat=6.0), domain=dict(x=[0,1], y=[0,1]), bgcolor="rgba(0,0,0,0)")

W, H = 842, 592
def px(x): return (x-8)/W
def py(y): return 1-(y-8)/H

shapes, ann = [], []
def text(x, y, s, size, color, anchor="left", family="Lato"):
    ann.append(dict(x=px(x), y=py(y), xref="paper", yref="paper", text=s, showarrow=False, xanchor=anchor, yanchor="middle",
                    font=dict(size=size, color=color, family=family), align=anchor))

text(14, 31, "<b>Share of electricity generation from coal</b>", 26.7, "#3b3b3b", family="Liberation Serif")
text(478, 33, "<b>2025</b>", 18, "#6e6e6e")
text(14, 61, "Measured as a percentage of total electricity generation.", 15, "#5b5b5b")
text(14, 576, "<b>Data source:</b> Ember (2026) and other sources", 13, "#5b5b5b")
text(835, 576, "OurWorldinData.org/electricity-mix | CC BY", 13.1, "#5b5b5b", anchor="right")

# logo
shapes.append(dict(type="rect", xref="paper", yref="paper", x0=px(770), x1=px(833), y0=py(52), y1=py(16), fillcolor="#002147", line_width=0))
shapes.append(dict(type="rect", xref="paper", yref="paper", x0=px(770), x1=px(833), y0=py(52), y1=py(49.5), fillcolor="#ce261e", line_width=0))
text(801.5, 26, "<b>Our World</b>", 11.5, "#ffffff", anchor="center")
text(801.5, 39, "<b>in Data</b>", 11.5, "#ffffff", anchor="center")

# legend
x_start, step = 166, 58.5
for i, col in enumerate(bin_colors):
    x0 = x_start + i*step
    x1 = x0 + step
    if i == len(bin_colors)-1:
        path = f"M{px(x0)},{py(537)} L{px(x1-5)},{py(537)} L{px(x1)},{py(542.5)} L{px(x1-5)},{py(548)} L{px(x0)},{py(548)} Z"
        shapes.append(dict(type="path", xref="paper", yref="paper", path=path, fillcolor=col, line=dict(color="#8a8a8a", width=0.4)))
    else:
        shapes.append(dict(type="rect", xref="paper", yref="paper", x0=px(x0), x1=px(x1), y0=py(548), y1=py(537), fillcolor=col, line=dict(color="#a8a8a8", width=0.6)))
    text(x0, 525, tick_labels[i], 13.5, "#5b5b5b", anchor="center")
text(122, 525, "No data", 13.5, "#5b5b5b", anchor="center")
shapes.append(dict(type="rect", xref="paper", yref="paper", x0=px(98), x1=px(146), y0=py(548), y1=py(537), fillcolor="#ffffff", line=dict(color="#c4c4c4", width=0.8)))
for k in range(0, 12):
    xa = 98 + k*4.4
    shapes.append(dict(type="line", xref="paper", yref="paper", x0=px(xa), x1=px(min(xa+5.5, 146)), y0=py(548), y1=py(537 + max(0, xa+5.5-146)*2), line=dict(color="#dcdcdc", width=0.8)))

fig.update_layout(width=W, height=H, margin=dict(l=0, r=0, t=0, b=0), paper_bgcolor="#ffffff",
                  shapes=shapes, annotations=ann, showlegend=False, autosize=False)
fig.write_html("out.html")
